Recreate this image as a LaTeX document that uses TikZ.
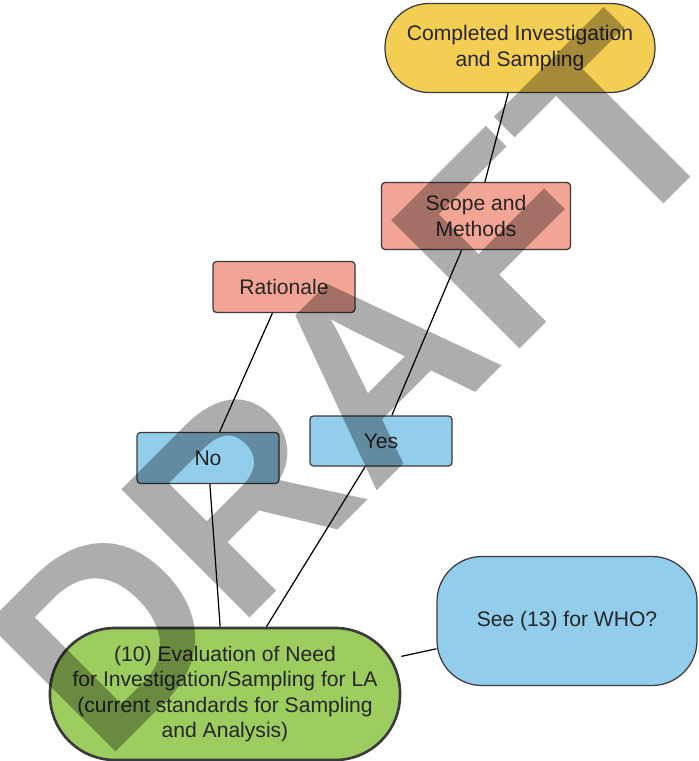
\documentclass[tikz,border=0pt]{standalone}
\usepackage{fontspec}
\setmainfont{Liberation Sans}
\usetikzlibrary{positioning}
\definecolor{pillyellow}{HTML}{F4CE52}
\definecolor{boxsalmon}{HTML}{F2A594}
\definecolor{boxblue}{HTML}{92CDEC}
\definecolor{pillgreen}{HTML}{9DCC5F}
\definecolor{edgegray}{HTML}{3A3A3A}

\begin{document}
\begin{tikzpicture}[
    font=\fontsize{12}{14.5}\selectfont,
    box/.style={draw=edgegray, line width=0.7pt, align=center, text=black!85, rounded corners=2pt, minimum width=2.84cm, minimum height=1.02cm, inner sep=2pt},
    pill/.style={box, minimum width=5.4cm, minimum height=1.78cm, rounded corners=0.88cm},
    connector/.style={line width=0.7pt},
    node distance=2cm, on grid
]
\useasboundingbox (-4.5,-1.34) rectangle (9.46,13.88);

% Nodes
\node[pill, fill=pillgreen, line width=1.5pt, minimum width=7cm, minimum height=2.64cm, rounded corners=1.3cm] (evaluation) {(10) Evaluation of Need\\for Investigation/Sampling for LA\\(current standards for Sampling\\and Analysis)};
\node[box, fill=boxblue, minimum width=5.2cm, minimum height=2.58cm, rounded corners=0.9cm, above right=1.46cm and 6.84cm of evaluation] (who) {See (13) for WHO?};
\node[box, fill=boxblue, above left=4.72cm and 0.34cm of evaluation] (no) {No};
\node[box, fill=boxblue, minimum height=1cm, above right=5.06cm and 3.12cm of evaluation] (yes) {Yes};
\node[box, fill=boxsalmon, above right=3.42cm and 1.52cm of no] (rationale) {Rationale};
\node[box, fill=boxsalmon, minimum width=3.78cm, minimum height=1.34cm, above right=4.5cm and 1.9cm of yes] (scope) {Scope and\\Methods};
\node[pill, fill=pillyellow, above right=3.36cm and 0.88cm of scope] (completed) {Completed Investigation\\and Sampling};

% Lines
\draw[connector] (evaluation) -- (no);
\draw[connector] (evaluation) -- (yes);
\draw[connector] (evaluation) -- (who);
\draw[connector] (no) -- (rationale);
\draw[connector] (yes) -- (scope);
\draw[connector] (scope) -- (completed);

% Watermark
\node[font=\fontsize{150}{150}\selectfont\bfseries, text=black, text opacity=0.32, rotate=45, inner sep=0pt] (draft) at (2.6,6.18) {DRAFT};

\end{tikzpicture}
\end{document}
